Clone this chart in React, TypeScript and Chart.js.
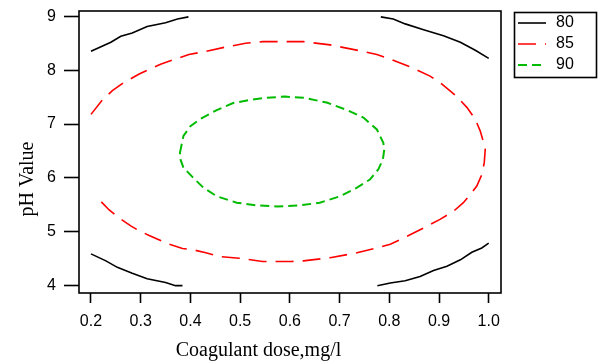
import React, { useEffect, useRef } from "react";
import { Chart, registerables } from "chart.js";

Chart.register(...registerables);

// ---- axes ----
const xTicks = [0.2, 0.3, 0.4, 0.5, 0.6, 0.7, 0.8, 0.9, 1.0];
const yTicks = [4, 5, 6, 7, 8, 9];
const xMin = 0.1759;
const xMax = 1.0247;
const yMin = 3.864;
const yMax = 9.099;
const xTitle = "Coagulant dose,mg/l";
const yTitle = "pH Value";
const levels = ["80", "85", "90"];

// ---- contour 80 (four corner pieces) ----
const c80aX = [0.2, 0.24, 0.26, 0.283, 0.313, 0.35, 0.374, 0.396];
const c80aY = [8.35, 8.52, 8.63, 8.69, 8.81, 8.88, 8.95, 8.99];
const c80bX = [0.783, 0.808, 0.832, 0.869, 0.909, 0.943, 0.973, 1.0];
const c80bY = [8.99, 8.95, 8.86, 8.75, 8.64, 8.52, 8.37, 8.22];
const c80cX = [0.2, 0.23, 0.253, 0.283, 0.313, 0.35, 0.37, 0.384];
const c80cY = [4.59, 4.46, 4.34, 4.23, 4.13, 4.06, 4.0, 4.0];
const c80dX = [0.776, 0.802, 0.832, 0.862, 0.889, 0.916, 0.943, 0.966, 0.986, 1.0];
const c80dY = [4.0, 4.05, 4.09, 4.17, 4.28, 4.36, 4.48, 4.62, 4.7, 4.79];

// ---- contour 85 ----
const c85X = [
  0.2, 0.223, 0.243, 0.266, 0.297, 0.34, 0.374, 0.397, 0.431, 0.471, 0.511, 0.545,
  0.603, 0.627, 0.681, 0.741, 0.775, 0.801, 0.845, 0.882, 0.906, 0.936, 0.956, 0.973,
  0.983, 0.989, 0.993, 0.991, 0.986, 0.976, 0.963, 0.949, 0.929, 0.902, 0.869, 0.828,
  0.802, 0.775, 0.735, 0.681, 0.627, 0.603, 0.545, 0.498, 0.458, 0.431, 0.404, 0.384,
  0.357, 0.317, 0.293, 0.28, 0.256, 0.236, 0.213,
];
const c85Y = [
  7.18, 7.45, 7.62, 7.77, 7.93, 8.11, 8.22, 8.29, 8.35, 8.43, 8.5, 8.53,
  8.53, 8.53, 8.47, 8.36, 8.29, 8.21, 8.05, 7.89, 7.74, 7.51, 7.31, 7.09,
  6.87, 6.68, 6.53, 6.28, 6.06, 5.85, 5.69, 5.54, 5.38, 5.23, 5.07, 4.88,
  4.77, 4.7, 4.61, 4.52, 4.46, 4.45, 4.45, 4.51, 4.54, 4.61, 4.67, 4.69,
  4.77, 4.93, 5.04, 5.11, 5.26, 5.41, 5.63,
];

// ---- contour 90 ----
const c90X = [
  0.379, 0.386, 0.4, 0.419, 0.453, 0.486, 0.52, 0.554, 0.59, 0.627, 0.674, 0.715,
  0.748, 0.775, 0.788, 0.79, 0.787, 0.778, 0.761, 0.735, 0.701, 0.66, 0.62, 0.574,
  0.533, 0.493, 0.453, 0.426, 0.406, 0.386, 0.379, 0.379,
];
const c90Y = [
  6.47, 6.78, 6.96, 7.09, 7.26, 7.39, 7.45, 7.49, 7.51, 7.49, 7.4, 7.26,
  7.12, 6.9, 6.65, 6.53, 6.34, 6.16, 5.97, 5.82, 5.66, 5.54, 5.49, 5.47,
  5.49, 5.54, 5.66, 5.82, 6.0, 6.19, 6.37, 6.47,
];

const BLACK = "#000000";
const RED = "#ff0000";
const GREEN = "#00bb00";
const DASH85 = [18, 9];
const DASH90 = [9, 5];

const zip = (xs: number[], ys: number[]) => xs.map((x, i) => ({ x, y: ys[i] }));

const line = (data: { x: number; y: number }[], color: string, dash: number[], width: number) => ({
  data,
  borderColor: color,
  backgroundColor: color,
  borderWidth: width,
  borderDash: dash,
  showLine: true,
  pointRadius: 0,
  tension: 0,
  fill: false,
});

const decorPlugin = {
  id: "decor",
  afterDraw(chart: any) {
    const { ctx, chartArea } = chart;
    const { left, right, top, bottom } = chartArea;
    ctx.save();
    // frame
    ctx.strokeStyle = "#000";
    ctx.lineWidth = 1.6;
    ctx.setLineDash([]);
    ctx.strokeRect(left, top, right - left, bottom - top);

    // axis titles
    ctx.fillStyle = "#000";
    ctx.font = '20px "Liberation Serif"';
    ctx.textAlign = "center";
    ctx.textBaseline = "alphabetic";
    ctx.fillText(xTitle, 258.5, 356);
    ctx.save();
    ctx.translate(33, 179);
    ctx.rotate(-Math.PI / 2);
    ctx.fillText(yTitle, 0, 0);
    ctx.restore();

    // legend
    const bx = 514.5, by = 12.5, bw = 82, bh = 65;
    ctx.lineWidth = 1.6;
    ctx.strokeRect(bx, by, bw, bh);
    const colors = [BLACK, RED, GREEN];
    const dashes = [[], DASH85, DASH90];
    const ys = [23, 44, 65];
    ctx.font = '16px "Liberation Sans"';
    ctx.textAlign = "left";
    ctx.textBaseline = "middle";
    levels.forEach((lab, i) => {
      ctx.strokeStyle = colors[i];
      ctx.lineWidth = i === 2 ? 2 : 1.6;
      ctx.setLineDash(dashes[i]);
      ctx.beginPath();
      ctx.moveTo(518, ys[i]);
      ctx.lineTo(546, ys[i]);
      ctx.stroke();
      ctx.setLineDash([]);
      ctx.fillStyle = "#000";
      ctx.fillText(lab, 556, ys[i]);
    });
    ctx.restore();
  },
};

export default function App() {
  const ref = useRef<HTMLCanvasElement | null>(null);

  useEffect(() => {
    document.body.style.margin = "0";
    const canvas = ref.current!;
    const chart = new Chart(canvas, {
      type: "scatter",
      data: {
        datasets: [
          line(zip(c80aX, c80aY), BLACK, [], 1.6),
          line(zip(c80bX, c80bY), BLACK, [], 1.6),
          line(zip(c80cX, c80cY), BLACK, [], 1.6),
          line(zip(c80dX, c80dY), BLACK, [], 1.6),
          line(zip(c85X, c85Y), RED, DASH85, 1.6),
          line(zip(c90X, c90Y), GREEN, DASH90, 2),
        ],
      },
      options: {
        responsive: false,
        animation: false,
        devicePixelRatio: 1,
        layout: { padding: { top: 11, right: 104, left: 0, bottom: 0 } },
        plugins: { legend: { display: false }, tooltip: { enabled: false } },
        scales: {
          x: {
            type: "linear",
            min: xMin,
            max: xMax,
            afterBuildTicks: (s: any) => {
              s.ticks = xTicks.map((v) => ({ value: v }));
            },
            afterFit: (s: any) => {
              s.height = 70;
              s.paddingLeft = 0;
              s.paddingRight = 0;
              s.paddingTop = 0;
              s.paddingBottom = 0;
            },
            grid: { display: true, drawOnChartArea: false, drawTicks: true, tickLength: 10, tickWidth: 1.6, tickColor: "#000" },
            border: { display: false },
            ticks: {
              color: "#000",
              font: { family: "Liberation Sans", size: 16 },
              padding: 9,
              maxRotation: 0,
              autoSkip: false,
              callback: (v: any) => Number(v).toFixed(1),
            },
          },
          y: {
            type: "linear",
            min: yMin,
            max: yMax,
            afterBuildTicks: (s: any) => {
              s.ticks = yTicks.map((v) => ({ value: v }));
            },
            afterFit: (s: any) => {
              s.width = 79;
              s.paddingLeft = 0;
              s.paddingRight = 0;
              s.paddingTop = 0;
              s.paddingBottom = 0;
            },
            grid: { display: true, drawOnChartArea: false, drawTicks: true, tickLength: 15, tickWidth: 1.6, tickColor: "#000" },
            border: { display: false },
            ticks: {
              color: "#000",
              font: { family: "Liberation Sans", size: 16 },
              padding: 8,
              autoSkip: false,
              callback: (v: any) => String(v),
            },
          },
        },
      },
      plugins: [decorPlugin],
    });
    return () => chart.destroy();
  }, []);

  return (
    <div style={{ position: "absolute", left: 0, top: 0, width: 605, height: 363 }}>
      <canvas ref={ref} width={605} height={363} style={{ display: "block" }} />
    </div>
  );
}
